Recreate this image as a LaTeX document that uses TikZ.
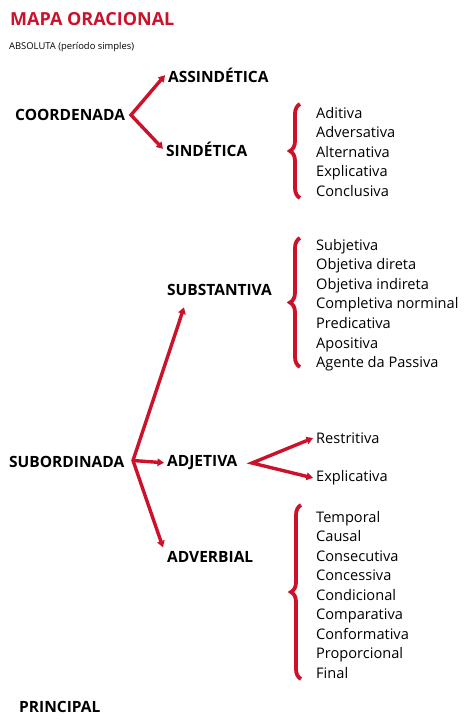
\documentclass[tikz,border=0pt]{standalone}
\usepackage{fontspec}
\setmainfont{Open Sans}
\usetikzlibrary{arrows.meta,decorations.pathreplacing}
\definecolor{mapared}{RGB}{204,18,42}
\begin{document}
\begin{tikzpicture}[x=1pt,y=-1pt,
    titulo/.style={anchor=base west,inner sep=0pt,text=mapared,font=\bfseries\fontsize{18}{21}\selectfont},
    nota/.style={anchor=base west,inner sep=0pt,font=\fontsize{9.4}{11}\selectfont},
    rotulo/.style={anchor=base west,inner xsep=3pt,inner ysep=0pt,font=\bfseries\fontsize{15.5}{18}\selectfont},
    item/.style={anchor=base west,inner xsep=3pt,inner ysep=0pt,font=\fontsize{14.6}{17}\selectfont},
    linha/.style={draw=mapared,line width=3.4pt},
    seta/.style={linha,{Triangle[length=6.5pt,width=7.5pt]}-{Triangle[length=6.5pt,width=7.5pt]}},
    setaum/.style={linha,-{Triangle[length=6.5pt,width=7.5pt]}},
    chave/.style={draw=mapared,line width=3.8pt,decorate,decoration={brace,amplitude=10pt}}]
    \useasboundingbox (0,0) rectangle (470,725);
    \node[titulo] (titulo) at (10,26) {MAPA ORACIONAL};%标题
    \node[nota] (absoluta) at (9,49.3) {ABSOLUTA (período simples)};
    % coordenadas
    \node[rotulo] (coord) at (12,120.7) {COORDENADA};
    \node[rotulo] (assind) at (165,82.3) {ASSINDÉTICA};
    \node[rotulo] (sind) at (163,156) {SINDÉTICA};
    \coordinate (vcoord) at (131,115);
    \draw[seta] (assind.west) -- (vcoord) -- (sind.west);
    \foreach \t [count=\i] in {Aditiva,Adversativa,Alternativa,Explicativa,Conclusiva}
        \node[item] (sind-\i) at (313,{118+(\i-1)*19.6}) {\t};
    \draw[chave] (300,198) -- (300,104);
    % subordinadas
    \node[rotulo] (subord) at (6,467) {SUBORDINADA};
    \node[rotulo] (subst) at (164,295) {SUBSTANTIVA};
    \node[rotulo] (adjet) at (164,466.7) {ADJETIVA};
    \node[rotulo] (adverb) at (164,562.7) {ADVERBIAL};
    \coordinate (vsub) at (133,460.5);
    \draw[seta] ([xshift=20pt,yshift=-12pt]subst.south west) -- (vsub) -- ([xshift=-1pt,yshift=4pt]adverb.north west);
    \draw[setaum] (vsub) -- (adjet.west);
    \foreach \t [count=\i] in {Subjetiva,Objetiva direta,Objetiva indireta,Completiva norminal,Predicativa,Apositiva,Agente da Passiva}
        \node[item] (subst-\i) at (313,{250+(\i-1)*19.6}) {\t};
    \draw[chave] (300,367) -- (300,238);
    % adjetivas
    \node[item] (restr) at (313,443.3) {Restritiva};
    \node[item] (explic) at (313,481.7) {Explicativa};
    \coordinate (vadj) at (252,463);
    \draw[seta] (restr.west) -- (vadj) -- (explic.west);
    % adverbiais
    \foreach \t [count=\i] in {Temporal,Causal,Consecutiva,Concessiva,Condicional,Comparativa,Conformativa,Proporcional,Final}
        \node[item] (adverb-\i) at (313,{522.3+(\i-1)*19.5}) {\t};
    \draw[chave] (301,679) -- (301,505);
    \node[rotulo] (princ) at (16,712.7) {PRINCIPAL};
\end{tikzpicture}
\end{document}
